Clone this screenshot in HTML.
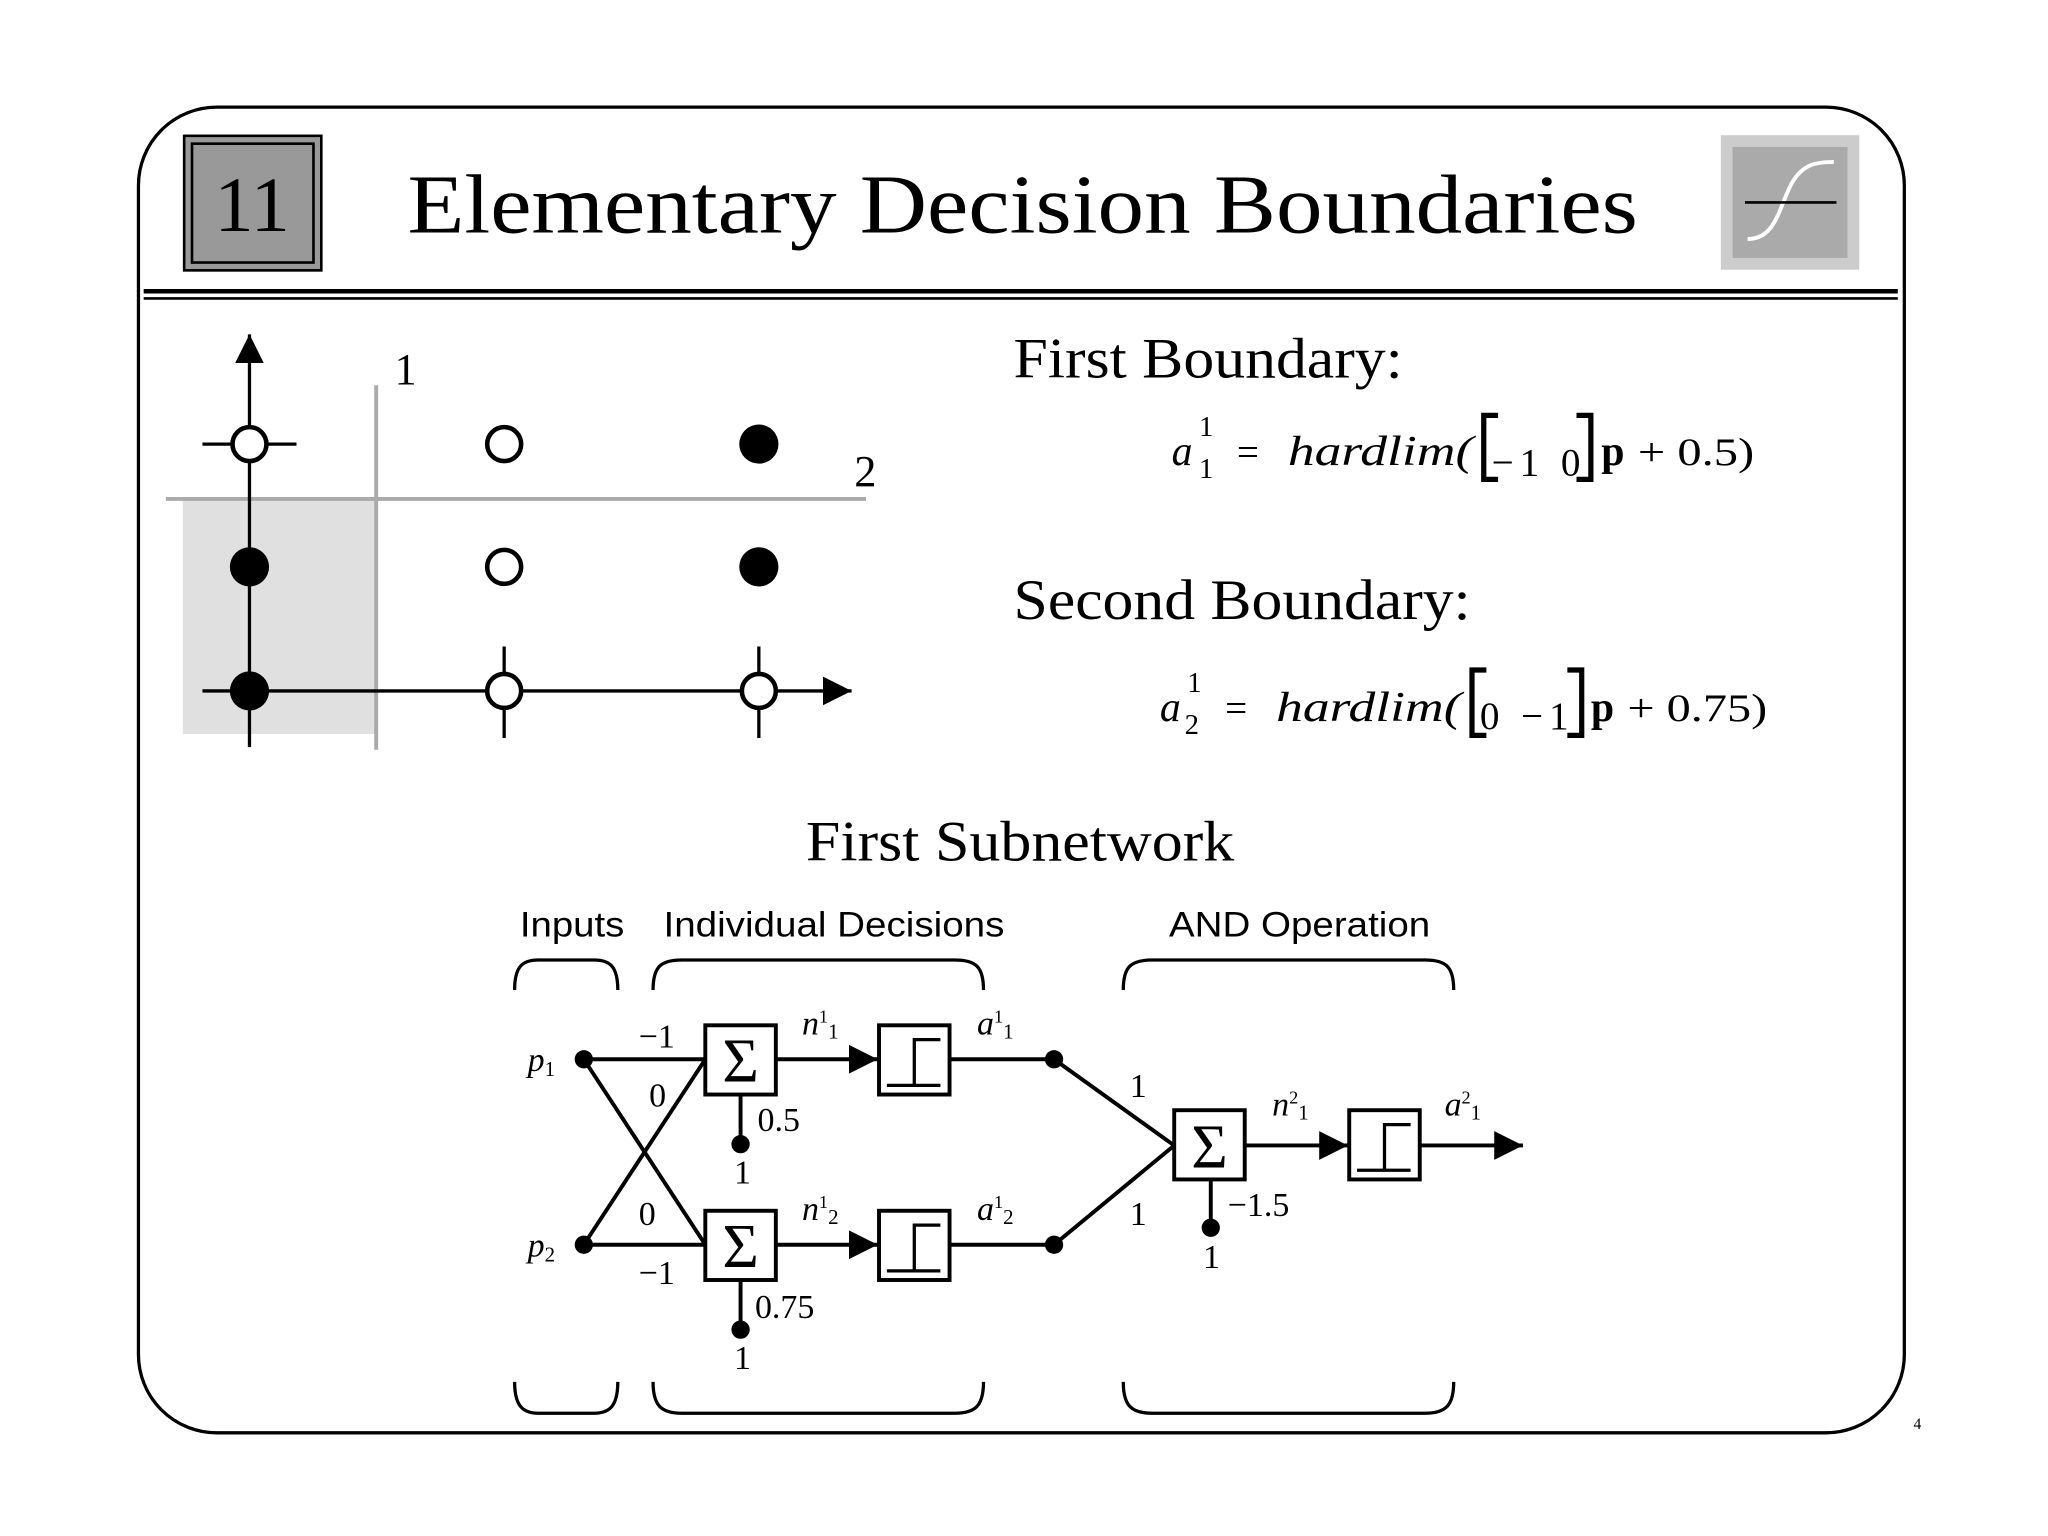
<!DOCTYPE html>
<html><head><meta charset="utf-8"><style>
html,body{margin:0;padding:0;background:#fff}
svg{display:block}
text{font-family:"Liberation Serif",serif}
.s{font-family:"Liberation Sans",sans-serif}
</style></head><body>
<svg width="2048" height="1536" viewBox="0 0 1568 1176" xmlns="http://www.w3.org/2000/svg">
<defs><marker id="ah" viewBox="0 0 10 10" refX="10" refY="5" markerWidth="22" markerHeight="22" markerUnits="userSpaceOnUse" orient="auto"><path d="M0,0L10,5L0,10z" fill="#000"/></marker></defs>
<rect x="106" y="82" width="1352" height="1015" rx="60" ry="60" fill="none" stroke="#000" stroke-width="2.5"/>
<rect x="141" y="104" width="105" height="103" fill="#999" stroke="#000" stroke-width="2"/>
<rect x="147" y="110" width="93" height="91" fill="none" stroke="#000" stroke-width="2"/>
<text x="193" y="177" font-size="60" text-anchor="middle">11</text>
<text x="312" y="178" font-size="64" textLength="942" lengthAdjust="spacingAndGlyphs">Elementary Decision Boundaries</text>
<rect x="1322" y="108" width="97" height="94" fill="#aaa" stroke="#ccc" stroke-width="9"/>
<path d="M1338,183 C1360,183 1362,158 1372,140 C1380,126 1390,124 1404,124" fill="none" stroke="#fff" stroke-width="3"/>
<line x1="1336" y1="155" x2="1406" y2="155" stroke="#000" stroke-width="2"/>
<line x1="110" y1="223" x2="1453" y2="223" stroke="#000" stroke-width="3.5"/>
<line x1="110" y1="228.5" x2="1453" y2="228.5" stroke="#000" stroke-width="2"/>
<rect x="140" y="383" width="148" height="179" fill="#e0e0e0"/>
<line x1="288" y1="295" x2="288" y2="574" stroke="#aaa" stroke-width="3"/>
<line x1="127" y1="382" x2="663" y2="382" stroke="#aaa" stroke-width="3"/>
<line x1="191" y1="572" x2="191" y2="256" stroke="#000" stroke-width="2.5" marker-end="url(#ah)"/>
<line x1="155" y1="529" x2="652" y2="529" stroke="#000" stroke-width="2.5" marker-end="url(#ah)"/>
<g stroke="#000" stroke-width="2.5">
<line x1="155" y1="340" x2="227" y2="340"/>
<line x1="386" y1="495" x2="386" y2="565"/>
<line x1="581" y1="495" x2="581" y2="565"/>
</g>
<g stroke="#000" stroke-width="3.5" fill="#fff">
<circle cx="191" cy="340" r="13"/><circle cx="386" cy="340" r="13"/><circle cx="386" cy="434" r="13"/><circle cx="386" cy="529" r="13"/><circle cx="581" cy="529" r="13"/>
</g>
<g fill="#000"><circle cx="581" cy="340" r="15"/><circle cx="191" cy="434" r="15"/><circle cx="581" cy="434" r="15"/><circle cx="191" cy="529" r="15"/></g>
<text x="302" y="294" font-size="34">1</text>
<text x="654" y="372" font-size="34">2</text>
<text x="776" y="289" font-size="44" textLength="298" lengthAdjust="spacingAndGlyphs">First Boundary:</text>
<text x="897" y="356" font-size="32" font-style="italic">a</text>
<text x="918" y="334" font-size="22">1</text><text x="918" y="366" font-size="22">1</text>
<text x="947" y="356" font-size="30">=</text>
<text x="986" y="356" font-size="32" font-style="italic" textLength="142" lengthAdjust="spacingAndGlyphs">hardlim(</text>
<path d="M1147,318 H1136 V367 H1147 M1207,318 H1218 V367 H1207" fill="none" stroke="#000" stroke-width="4"/>
<text x="1142" y="364" font-size="30" textLength="68" lengthAdjust="spacing">−1 0</text>
<text x="1226" y="356" font-size="32" font-weight="bold">p</text>
<text x="1254" y="356" font-size="30" textLength="89" lengthAdjust="spacingAndGlyphs">+ 0.5)</text>
<text x="776" y="474" font-size="44" textLength="350" lengthAdjust="spacingAndGlyphs">Second Boundary:</text>
<text x="888" y="552" font-size="32" font-style="italic">a</text>
<text x="909" y="530" font-size="22">1</text><text x="907" y="562" font-size="22">2</text>
<text x="938" y="552" font-size="30">=</text>
<text x="977" y="552" font-size="32" font-style="italic" textLength="142" lengthAdjust="spacingAndGlyphs">hardlim(</text>
<path d="M1138,513 H1127 V563 H1138 M1200,513 H1211 V563 H1200" fill="none" stroke="#000" stroke-width="4"/>
<text x="1133" y="558" font-size="30" textLength="68" lengthAdjust="spacing">0 −1</text>
<text x="1218" y="552" font-size="32" font-weight="bold">p</text>
<text x="1246" y="552" font-size="30" textLength="107" lengthAdjust="spacingAndGlyphs">+ 0.75)</text>
<text x="781" y="659" font-size="44" text-anchor="middle" textLength="328" lengthAdjust="spacingAndGlyphs">First Subnetwork</text>
<text class="s" x="398" y="717" font-size="27" textLength="80" lengthAdjust="spacingAndGlyphs">Inputs</text>
<text class="s" x="508" y="717" font-size="27" textLength="261" lengthAdjust="spacingAndGlyphs">Individual Decisions</text>
<text class="s" x="895" y="717" font-size="27" textLength="200" lengthAdjust="spacingAndGlyphs">AND Operation</text>
<g fill="none" stroke="#000" stroke-width="2.5">
<path d="M394,758 C394,740 400,735 412,735 H455 C467,735 473,740 473,758"/>
<path d="M500,758 C500,740 506,735 522,735 H731 C747,735 753,740 753,758"/>
<path d="M860,758 C860,740 866,735 882,735 H1091 C1107,735 1113,740 1113,758"/>
<path d="M394,1058 C394,1076 400,1082 412,1082 H455 C467,1082 473,1076 473,1058"/>
<path d="M500,1058 C500,1076 506,1082 522,1082 H731 C747,1082 753,1076 753,1058"/>
<path d="M860,1058 C860,1076 866,1082 882,1082 H1091 C1107,1082 1113,1076 1113,1058"/>
</g>
<g stroke="#000" stroke-width="3" fill="none">
<line x1="447" y1="811" x2="540" y2="811"/>
<line x1="447" y1="953" x2="540" y2="953"/>
<line x1="447" y1="811" x2="540" y2="953"/>
<line x1="447" y1="953" x2="540" y2="811"/>
<line x1="567" y1="838" x2="567" y2="876"/>
<line x1="567" y1="980" x2="567" y2="1018"/>
<line x1="594" y1="811" x2="672" y2="811" marker-end="url(#ah)"/>
<line x1="594" y1="953" x2="672" y2="953" marker-end="url(#ah)"/>
<line x1="727" y1="811" x2="807" y2="811"/>
<line x1="727" y1="953" x2="807" y2="953"/>
<line x1="807" y1="811" x2="899" y2="877"/>
<line x1="807" y1="953" x2="899" y2="877"/>
<line x1="927" y1="903" x2="927" y2="940"/>
<line x1="953" y1="877" x2="1032" y2="877" marker-end="url(#ah)"/>
<line x1="1087" y1="877" x2="1166" y2="877" marker-end="url(#ah)"/>
<rect x="540" y="785" width="54" height="53" fill="#fff"/>
<rect x="540" y="927" width="54" height="53" fill="#fff"/>
<rect x="899" y="850" width="54" height="53" fill="#fff"/>
<rect x="673" y="785" width="54" height="53" fill="#fff"/>
<rect x="673" y="927" width="54" height="53" fill="#fff"/>
<rect x="1033" y="850" width="54" height="53" fill="#fff"/>
<path d="M679,831 H700 V796 H720 M679,831 H720" stroke-width="2.5"/>
<path d="M679,973 H700 V938 H720 M679,973 H720" stroke-width="2.5"/>
<path d="M1039,896 H1060 V861 H1080 M1039,896 H1080" stroke-width="2.5"/>
</g>
<g fill="#000">
<circle cx="447" cy="811" r="7"/><circle cx="447" cy="953" r="7"/>
<circle cx="567" cy="876" r="7"/><circle cx="567" cy="1018" r="7"/>
<circle cx="807" cy="811" r="7"/><circle cx="807" cy="953" r="7"/>
<circle cx="927" cy="940" r="7"/>
</g>
<g font-size="48" text-anchor="middle"><text x="567" y="828">Σ</text><text x="567" y="970">Σ</text><text x="926" y="894">Σ</text></g>
<g font-size="26">
<text x="404" y="820" font-style="italic">p<tspan font-size="16" font-style="normal" dy="4">1</tspan></text>
<text x="404" y="962" font-style="italic">p<tspan font-size="16" font-style="normal" dy="4">2</tspan></text>
<text x="489" y="802">−1</text><text x="497" y="847">0</text>
<text x="489" y="938">0</text><text x="489" y="983">−1</text>
<text x="580" y="866">0.5</text><text x="562" y="906">1</text>
<text x="578" y="1009">0.75</text><text x="562" y="1048">1</text>
<text x="614" y="792" font-style="italic">n<tspan font-size="14" font-style="normal" dy="-9">1</tspan><tspan font-size="16" font-style="normal" dy="12">1</tspan></text>
<text x="614" y="934" font-style="italic">n<tspan font-size="14" font-style="normal" dy="-9">1</tspan><tspan font-size="16" font-style="normal" dy="12">2</tspan></text>
<text x="748" y="792" font-style="italic">a<tspan font-size="14" font-style="normal" dy="-9">1</tspan><tspan font-size="16" font-style="normal" dy="12">1</tspan></text>
<text x="748" y="934" font-style="italic">a<tspan font-size="14" font-style="normal" dy="-9">1</tspan><tspan font-size="16" font-style="normal" dy="12">2</tspan></text>
<text x="865" y="840">1</text><text x="865" y="938">1</text>
<text x="940" y="931">−1.5</text><text x="921" y="971">1</text>
<text x="974" y="854" font-style="italic">n<tspan font-size="14" font-style="normal" dy="-9">2</tspan><tspan font-size="16" font-style="normal" dy="12">1</tspan></text>
<text x="1106" y="854" font-style="italic">a<tspan font-size="14" font-style="normal" dy="-9">2</tspan><tspan font-size="16" font-style="normal" dy="12">1</tspan></text>
</g>
<text x="1465" y="1094" font-size="12">4</text>
</svg>
</body></html>
